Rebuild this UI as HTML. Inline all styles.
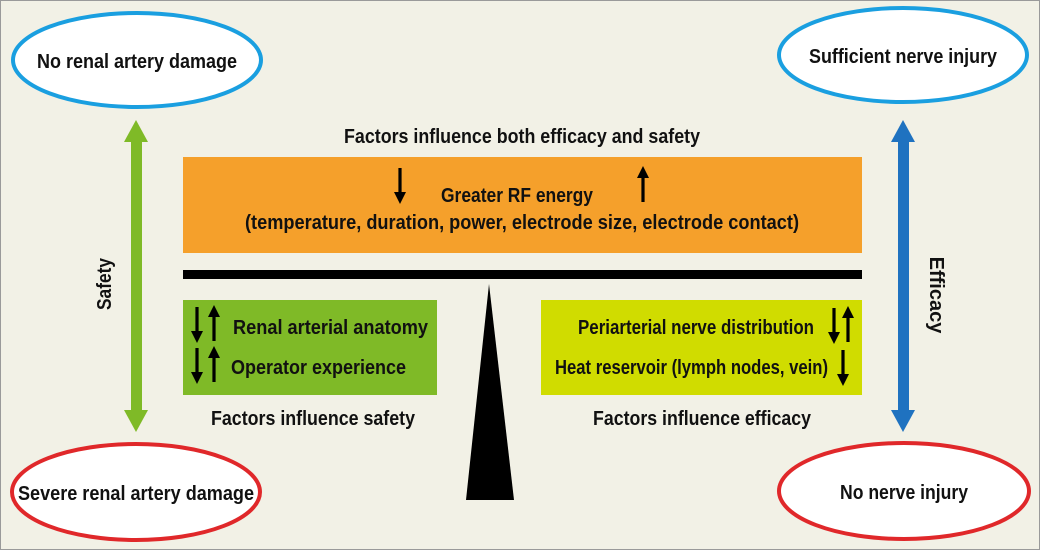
<!DOCTYPE html>
<html><head><meta charset="utf-8"><style>
html,body{margin:0;padding:0;background:#f2f1e6}
svg{display:block}
text{font-family:"Liberation Sans Narrow","Liberation Sans",sans-serif;font-weight:bold;fill:#111;font-size:20px}
</style></head><body>
<svg width="1040" height="550" viewBox="0 0 1040 550" xmlns="http://www.w3.org/2000/svg">
<defs>
<g id="dn"><rect x="-1.6" y="0" width="3.2" height="26" fill="#000"/><polygon points="-6,24 6,24 0,36" fill="#000"/></g>
<g id="up"><rect x="-1.6" y="10" width="3.2" height="26" fill="#000"/><polygon points="-6,12 6,12 0,0" fill="#000"/></g>
</defs>
<rect x="0.5" y="0.5" width="1039" height="549" fill="#f2f1e6" stroke="#9a9a9a"/>
<ellipse cx="137" cy="60" rx="124" ry="47" fill="#fff" stroke="#1a9fe0" stroke-width="4"/>
<ellipse cx="903" cy="55" rx="124" ry="47" fill="#fff" stroke="#1a9fe0" stroke-width="4"/>
<ellipse cx="136" cy="492" rx="124" ry="48" fill="#fff" stroke="#e0282a" stroke-width="4"/>
<ellipse cx="904" cy="491" rx="125" ry="48" fill="#fff" stroke="#e0282a" stroke-width="4"/>
<text x="137" y="68" text-anchor="middle" textLength="200" lengthAdjust="spacingAndGlyphs">No renal artery damage</text>
<text x="903" y="63" text-anchor="middle" textLength="188" lengthAdjust="spacingAndGlyphs">Sufficient nerve injury</text>
<text x="136" y="500" text-anchor="middle" textLength="236" lengthAdjust="spacingAndGlyphs">Severe renal artery damage</text>
<text x="904" y="499" text-anchor="middle" textLength="128" lengthAdjust="spacingAndGlyphs">No nerve injury</text>
<rect x="131" y="140" width="11" height="274" fill="#7fba27"/>
<polygon points="136,120 124,142 148,142" fill="#7fba27"/>
<polygon points="136,432 124,410 148,410" fill="#7fba27"/>
<rect x="898" y="140" width="11" height="274" fill="#1f72c0"/>
<polygon points="903,120 891,142 915,142" fill="#1f72c0"/>
<polygon points="903,432 891,410 915,410" fill="#1f72c0"/>
<text transform="translate(111,284) rotate(-90)" text-anchor="middle" textLength="52" lengthAdjust="spacingAndGlyphs">Safety</text>
<text transform="translate(930,295) rotate(90)" text-anchor="middle">Efficacy</text>
<text x="522" y="143" text-anchor="middle" textLength="356" lengthAdjust="spacingAndGlyphs">Factors influence both efficacy and safety</text>
<rect x="183" y="157" width="679" height="96" fill="#f5a02b"/>
<text x="517" y="202" text-anchor="middle" textLength="152" lengthAdjust="spacingAndGlyphs">Greater RF energy</text>
<text x="522" y="229" text-anchor="middle" textLength="554" lengthAdjust="spacingAndGlyphs">(temperature, duration, power, electrode size, electrode contact)</text>
<use href="#dn" x="400" y="168"/>
<use href="#up" x="643" y="166"/>
<rect x="183" y="270" width="679" height="9" fill="#000"/>
<polygon points="489,284 466,500 514,500" fill="#000"/>
<rect x="183" y="300" width="254" height="95" fill="#7fba27"/>
<text x="233" y="334" textLength="195" lengthAdjust="spacingAndGlyphs">Renal arterial anatomy</text>
<text x="231" y="374" textLength="175" lengthAdjust="spacingAndGlyphs">Operator experience</text>
<rect x="541" y="300" width="321" height="95" fill="#d0dc00"/>
<text x="578" y="334" textLength="236" lengthAdjust="spacingAndGlyphs">Periarterial nerve distribution</text>
<text x="555" y="374" textLength="273" lengthAdjust="spacingAndGlyphs">Heat reservoir (lymph nodes, vein)</text>
<use href="#dn" x="197" y="307"/>
<use href="#up" x="214" y="305"/>
<use href="#dn" x="197" y="348"/>
<use href="#up" x="214" y="346"/>
<use href="#dn" x="834" y="308"/>
<use href="#up" x="848" y="306"/>
<use href="#dn" x="843" y="350"/>
<text x="313" y="425" text-anchor="middle" textLength="204" lengthAdjust="spacingAndGlyphs">Factors influence safety</text>
<text x="702" y="425" text-anchor="middle" textLength="218" lengthAdjust="spacingAndGlyphs">Factors influence efficacy</text>
</svg>
</body></html>
